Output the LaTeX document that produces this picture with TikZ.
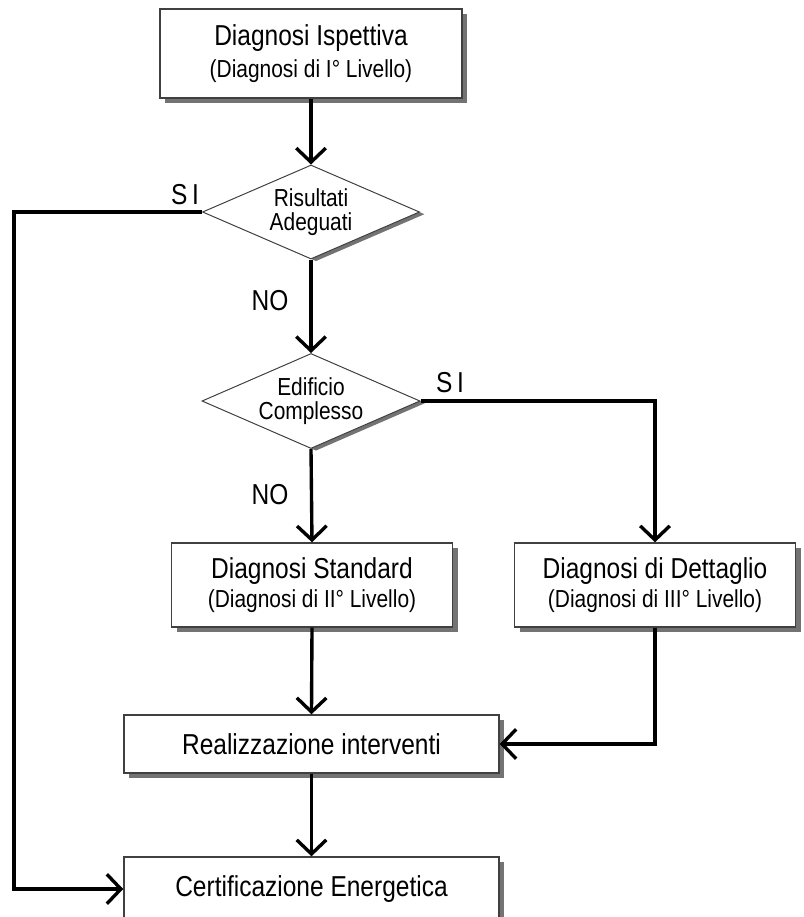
\documentclass[tikz,border=0pt]{standalone}
\usepackage{fontspec}
\setmainfont{Liberation Sans}[FakeStretch=0.85]
\usetikzlibrary{arrows.meta,shapes.geometric,shadows}
\begin{document}
\begin{tikzpicture}[x=0.025cm,y=-0.025cm,
  box/.style={draw=black!75, line width=1pt, fill=white, inner sep=0pt, align=center,
    drop shadow={shadow xshift=0.13cm, shadow yshift=-0.13cm, fill=black!55, opacity=1}},
  dec/.style={diamond, draw=black!75, line width=0.7pt, fill=white, inner sep=0pt, aspect=2.3,
    align=center, font=\fontsize{17.5}{17.5}\selectfont,
    drop shadow={shadow xshift=0.125cm, shadow yshift=-0.055cm, fill=black!55, opacity=1}},
  conn/.style={line width=2.4pt, -{Straight Barb[length=10pt,width=21pt]}},
  lbl/.style={font=\fontsize{20.5}{22}\selectfont, inner sep=0pt},
  bigtxt/.style={font=\fontsize{20.5}{23}\selectfont},
  smalltxt/.style={font=\fontsize{20.5}{21}\selectfont}
]
\useasboundingbox (0,0) rectangle (804,917);
\fill[white] (0,0) rectangle (804,917);
\clip (0,0) rectangle (804,917);

\node[box, bigtxt, minimum width=7.55cm, minimum height=2.225cm] (isp) at (311,53.5)
  {Diagnosi Ispettiva\\{\fontsize{17.5}{23}\selectfont (Diagnosi di I° Livello)}};
\node[dec, minimum width=5.425cm, minimum height=2.35cm] (ris) at (311,212) {Risultati\\Adeguati};
\node[dec, minimum width=5.45cm, minimum height=2.375cm] (edi) at (311,401) {Edificio\\Complesso};
\node[box, smalltxt, minimum width=7.025cm, minimum height=2.1cm] (std) at (312,585)
  {Diagnosi Standard\\{\fontsize{17.5}{21}\selectfont (Diagnosi di II° Livello)}};
\node[box, smalltxt, minimum width=7.025cm, minimum height=2.1cm] (det) at (655,585)
  {Diagnosi di Dettaglio\\{\fontsize{17.5}{21}\selectfont (Diagnosi di III° Livello)}};
\node[box, bigtxt, minimum width=9.375cm, minimum height=1.45cm] (rea) at (311.5,744)
  {Realizzazione interventi};
\node[box, bigtxt, minimum width=9.375cm, minimum height=1.6cm] (cer) at (311.5,889)
  {Certificazione Energetica};

\coordinate (lc) at (14,212);

\draw[conn] (isp.south) -- (ris.north);
\draw[conn] (ris.south) -- (edi.north);
\draw[conn] (edi.south) -- (std.north);
\draw[conn] (edi.east) -| (det.north);
\draw[conn] (std.south) -- (rea.north);
\draw[conn] (det.south) |- (rea.east);
\draw[conn] (rea.south) -- (cer.north);
\draw[conn] (ris.west) -- (lc) |- (cer.west);

\node[lbl] (si1) at (185,195) {S\,I};
\node[lbl] (no1) at (270,301) {NO};
\node[lbl] (si2) at (450,383) {S\,I};
\node[lbl] (no2) at (270,495) {NO};
\end{tikzpicture}
\end{document}
